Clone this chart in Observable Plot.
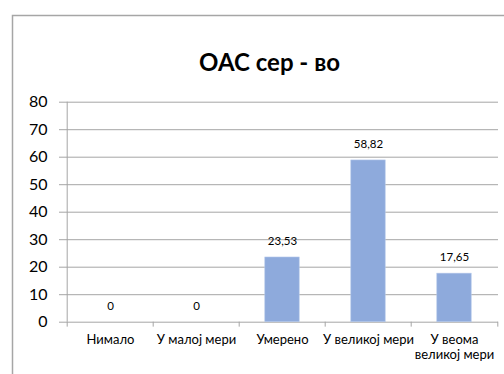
<!DOCTYPE html>
<html>
<head>
<meta charset="utf-8">
<script src="https://cdn.jsdelivr.net/npm/d3@7"></script>
<script src="https://cdn.jsdelivr.net/npm/@observablehq/plot@0.6"></script>
<style>
  html, body { margin: 0; padding: 0; background: #fff; }
  #chart { width: 504px; height: 374px; overflow: hidden; }
</style>
</head>
<body>
<div id="chart"></div>
<script>
const title = "ОАС сер - во";
const categories = ["Нимало", "У малој мери", "Умерено", "У великој мери", "У веома\nвеликој мери"];
const values = [0, 0, 23.53, 58.82, 17.65];
const yTicks = [0, 10, 20, 30, 40, 50, 60, 70, 80];

const data = categories.map((c, i) => ({category: c, value: values[i]}));
const fmt = v => v === 0 ? "0" : v.toFixed(2).replace(".", ",");

const W = 504, H = 374;
const mL = 65, mR = 6, mT = 101.7, mB = 52.3;
const band = (W - mL - mR) / categories.length;
const font = "Lato, 'Open Sans', sans-serif";
const grey = "#a6a6a6";

const chart = Plot.plot({
  width: W,
  height: H,
  marginLeft: mL,
  marginRight: mR,
  marginTop: mT,
  marginBottom: mB,
  style: {fontFamily: font, background: "#fff", overflow: "visible"},
  x: {domain: categories, padding: 0},
  y: {domain: [0, 80]},
  marks: [
    Plot.ruleY(yTicks, {stroke: grey, strokeWidth: 1}),
    Plot.barY(data, {x: "category", y: "value", fill: "#8eaadc", stroke: "#b4c8ea", strokeWidth: 0.6, insetLeft: 25.8, insetRight: 25.8}),
    Plot.text(data, {x: "category", y: "value", text: d => fmt(d.value), dy: -16, fontSize: 11.5, fill: "#000"}),
    Plot.axisY({ticks: yTicks, tickSize: 6, tickPadding: 12, fontSize: 16, stroke: grey, fill: "#000", tickFormat: d => String(d), label: null}),
    Plot.ruleX([0], {x: () => categories[0], dx: -band / 2, y1: 0, y2: 80, stroke: grey}),
    Plot.ruleX(categories, {x: d => d, dx: -band / 2, y1: 0, y2: -1.8, stroke: grey}),
    Plot.ruleX([categories[categories.length - 1]], {x: d => d, dx: band / 2, y1: 0, y2: -1.8, stroke: grey}),
    Plot.axisX({tickSize: 0, tickPadding: 11, fontSize: 13, fill: "#000", label: null, lineHeight: 1.15}),
    Plot.text([title], {frameAnchor: "top", dx: -12.5, dy: -48, fontSize: 24, fontWeight: "bold", fill: "#000"})
  ]
});

// chart area border (outer frame of the spreadsheet chart object)
const svg = d3.select(chart);
svg.insert("path", ":first-child")
  .attr("d", "M12.5,374 V15.5 H504")
  .attr("fill", "none")
  .attr("stroke", grey)
  .attr("stroke-width", 1.5);

document.getElementById("chart").appendChild(chart);
</script>
</body>
</html>
